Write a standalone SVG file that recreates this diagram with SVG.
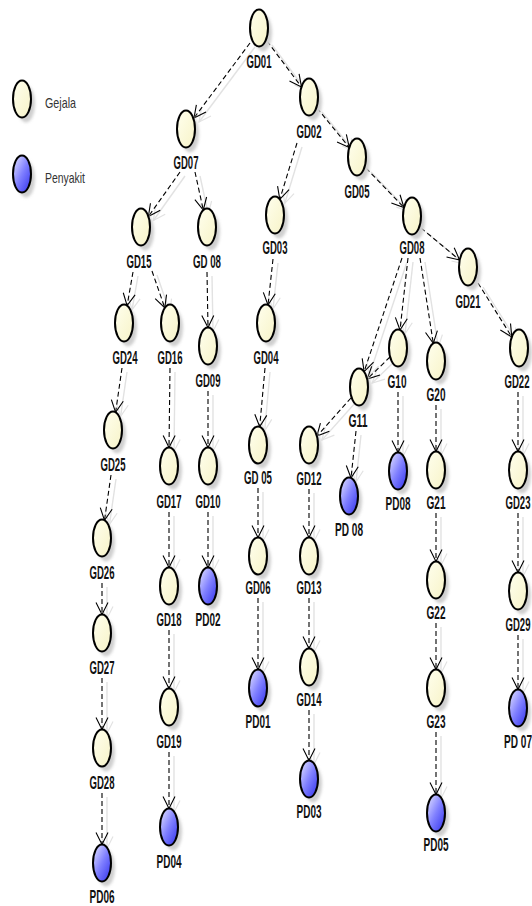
<svg xmlns="http://www.w3.org/2000/svg" width="532" height="906" viewBox="0 0 532 906">
<defs>
<linearGradient id="gy" x1="0" y1="0" x2="1" y2="1">
<stop offset="0" stop-color="#ffffee"/><stop offset="1" stop-color="#f7f3c8"/>
</linearGradient>
<linearGradient id="gb" x1="0.1" y1="0.1" x2="0.9" y2="0.9">
<stop offset="0" stop-color="#d4d4ff"/><stop offset="0.5" stop-color="#8080ff"/><stop offset="1" stop-color="#4040f0"/>
</linearGradient>
<filter id="blur" x="-50%" y="-50%" width="200%" height="200%"><feGaussianBlur stdDeviation="1.5"/></filter>
<marker id="ah" markerUnits="userSpaceOnUse" markerWidth="14" markerHeight="14" refX="12" refY="6" orient="auto" overflow="visible">
<path d="M0,0 L12,6 L0,12" fill="none" stroke="#000" stroke-width="1.1"/>
</marker>
<marker id="ahs" markerUnits="userSpaceOnUse" markerWidth="14" markerHeight="14" refX="12" refY="6" orient="auto" overflow="visible">
<path d="M0,0 L12,6 L0,12" fill="none" stroke="#e2e2e2" stroke-width="1.2"/>
</marker>
<g id="yn"><ellipse cx="4" cy="5" rx="9" ry="18.5" fill="#cfcfcf" filter="url(#blur)"/><ellipse cx="0" cy="0" rx="9" ry="18.5" fill="url(#gy)" stroke="#000" stroke-width="2"/></g>
<g id="bn"><ellipse cx="4" cy="5" rx="9" ry="18.5" fill="#cfcfcf" filter="url(#blur)"/><ellipse cx="0" cy="0" rx="9" ry="18.5" fill="url(#gb)" stroke="#000" stroke-width="2"/></g>
</defs>
<style>
.lb{font-family:"Liberation Sans",Arial,sans-serif;font-size:18px;font-weight:bold;fill:#111;text-anchor:middle}
.lg{font-family:"Liberation Sans",Arial,sans-serif;font-size:15px;fill:#333}
.e{fill:none;stroke:#000;stroke-width:1.1;stroke-dasharray:5,3;marker-end:url(#ah)}
.s{fill:none;stroke:#e2e2e2;stroke-width:1.4;marker-end:url(#ahs)}
</style>
<rect width="532" height="906" fill="#fff"/>

<g id="legend">
<use href="#yn" x="22" y="99"/>
<text class="lg" x="45" y="108" textLength="31" lengthAdjust="spacingAndGlyphs">Gejala</text>
<use href="#bn" x="22" y="174"/>
<text class="lg" x="45" y="183" textLength="40" lengthAdjust="spacingAndGlyphs">Penyakit</text>
</g>

<g id="shadows" transform="translate(5,4)">
<path class="s" d="M250,43L194,118"/>
<path class="s" d="M267,41L301.5,87"/>
<path class="s" d="M297,143L279.8,199.3"/>
<path class="s" d="M317,108L349.3,147.5"/>
<path class="s" d="M366,168L404,207.6"/>
<path class="s" d="M421,228L459.6,260"/>
<path class="s" d="M180,172L148.4,216.5"/>
<path class="s" d="M195,172L203.3,210"/>
<path class="s" d="M133,272L127.1,305.6"/>
<path class="s" d="M152,271L164.8,307.9"/>
<path class="s" d="M207,272L208,327.5"/>
<path class="s" d="M273,259L268,305"/>
<path class="s" d="M265,368L259.7,426.8"/>
<path class="s" d="M258,488L258,537.5"/>
<path class="s" d="M258,598L258,669.5"/>
<path class="s" d="M402,258L364.1,371.7"/>
<path class="s" d="M408,258L400,330"/>
<path class="s" d="M420,258L433.3,343.4"/>
<path class="s" d="M390,357L367.2,379.1"/>
<path class="s" d="M351,398L316.9,436.1"/>
<path class="s" d="M356,431L351,478"/>
<path class="s" d="M398,392L398,452.5"/>
<path class="s" d="M436,405L436,451.5"/>
<path class="s" d="M436,513L436,561.5"/>
<path class="s" d="M436,623L436,669.5"/>
<path class="s" d="M436,732L436,794.5"/>
<path class="s" d="M478,283L511.8,336.9"/>
<path class="s" d="M518,392L518,451.5"/>
<path class="s" d="M518,513L518,572.5"/>
<path class="s" d="M518,635L518,689.5"/>
<path class="s" d="M309,489L309,537.5"/>
<path class="s" d="M309,598L309,648.5"/>
<path class="s" d="M309,710L309,760.5"/>
<path class="s" d="M122,368L115.6,412.3"/>
<path class="s" d="M111,475L104.5,520.3"/>
<path class="s" d="M102,583L102,614.5"/>
<path class="s" d="M102,678L102,729.5"/>
<path class="s" d="M102,793L102,844.5"/>
<path class="s" d="M170,368L169,447.5"/>
<path class="s" d="M169,512L169,567.5"/>
<path class="s" d="M169,630L169,688.5"/>
<path class="s" d="M169,752L169,808.5"/>
<path class="s" d="M208,391L208,447.5"/>
<path class="s" d="M208,512L208,567.5"/>
</g>

<g id="connectors">
<path class="e" d="M250,43L194,118"/>
<path class="e" d="M267,41L301.5,87"/>
<path class="e" d="M297,143L279.8,199.3"/>
<path class="e" d="M317,108L349.3,147.5"/>
<path class="e" d="M366,168L404,207.6"/>
<path class="e" d="M421,228L459.6,260"/>
<path class="e" d="M180,172L148.4,216.5"/>
<path class="e" d="M195,172L203.3,210"/>
<path class="e" d="M133,272L127.1,305.6"/>
<path class="e" d="M152,271L164.8,307.9"/>
<path class="e" d="M207,272L208,327.5"/>
<path class="e" d="M273,259L268,305"/>
<path class="e" d="M265,368L259.7,426.8"/>
<path class="e" d="M258,488L258,537.5"/>
<path class="e" d="M258,598L258,669.5"/>
<path class="e" d="M402,258L364.1,371.7"/>
<path class="e" d="M408,258L400,330"/>
<path class="e" d="M420,258L433.3,343.4"/>
<path class="e" d="M390,357L367.2,379.1"/>
<path class="e" d="M351,398L316.9,436.1"/>
<path class="e" d="M356,431L351,478"/>
<path class="e" d="M398,392L398,452.5"/>
<path class="e" d="M436,405L436,451.5"/>
<path class="e" d="M436,513L436,561.5"/>
<path class="e" d="M436,623L436,669.5"/>
<path class="e" d="M436,732L436,794.5"/>
<path class="e" d="M478,283L511.8,336.9"/>
<path class="e" d="M518,392L518,451.5"/>
<path class="e" d="M518,513L518,572.5"/>
<path class="e" d="M518,635L518,689.5"/>
<path class="e" d="M309,489L309,537.5"/>
<path class="e" d="M309,598L309,648.5"/>
<path class="e" d="M309,710L309,760.5"/>
<path class="e" d="M122,368L115.6,412.3"/>
<path class="e" d="M111,475L104.5,520.3"/>
<path class="e" d="M102,583L102,614.5"/>
<path class="e" d="M102,678L102,729.5"/>
<path class="e" d="M102,793L102,844.5"/>
<path class="e" d="M170,368L169,447.5"/>
<path class="e" d="M169,512L169,567.5"/>
<path class="e" d="M169,630L169,688.5"/>
<path class="e" d="M169,752L169,808.5"/>
<path class="e" d="M208,391L208,447.5"/>
<path class="e" d="M208,512L208,567.5"/>
</g>

<g id="GD01"><use href="#yn" x="259" y="28"/><text class="lb" x="259" y="68" textLength="25" lengthAdjust="spacingAndGlyphs">GD01</text></g>
<g id="GD02"><use href="#yn" x="309" y="97"/><text class="lb" x="309" y="138" textLength="25" lengthAdjust="spacingAndGlyphs">GD02</text></g>
<g id="GD07"><use href="#yn" x="186" y="129"/><text class="lb" x="186" y="169" textLength="25" lengthAdjust="spacingAndGlyphs">GD07</text></g>
<g id="GD05"><use href="#yn" x="357" y="157"/><text class="lb" x="357" y="198" textLength="25" lengthAdjust="spacingAndGlyphs">GD05</text></g>
<g id="GD08"><use href="#yn" x="412" y="216"/><text class="lb" x="412" y="254" textLength="25" lengthAdjust="spacingAndGlyphs">GD08</text></g>
<g id="GD21"><use href="#yn" x="468" y="267"/><text class="lb" x="468" y="308" textLength="25" lengthAdjust="spacingAndGlyphs">GD21</text></g>
<g id="GD15"><use href="#yn" x="141" y="227"/><text class="lb" x="139" y="268" textLength="25" lengthAdjust="spacingAndGlyphs">GD15</text></g>
<g id="GD_08"><use href="#yn" x="207" y="227"/><text class="lb" x="207" y="268" textLength="28" lengthAdjust="spacingAndGlyphs">GD 08</text></g>
<g id="GD03"><use href="#yn" x="275" y="215"/><text class="lb" x="275" y="254" textLength="25" lengthAdjust="spacingAndGlyphs">GD03</text></g>
<g id="GD24"><use href="#yn" x="124" y="323"/><text class="lb" x="125" y="364" textLength="25" lengthAdjust="spacingAndGlyphs">GD24</text></g>
<g id="GD16"><use href="#yn" x="170" y="323"/><text class="lb" x="170" y="364" textLength="25" lengthAdjust="spacingAndGlyphs">GD16</text></g>
<g id="GD09"><use href="#yn" x="208" y="346"/><text class="lb" x="208" y="387" textLength="25" lengthAdjust="spacingAndGlyphs">GD09</text></g>
<g id="GD04"><use href="#yn" x="266" y="323"/><text class="lb" x="266" y="364" textLength="25" lengthAdjust="spacingAndGlyphs">GD04</text></g>
<g id="G10"><use href="#yn" x="398" y="348"/><text class="lb" x="397" y="388" textLength="19" lengthAdjust="spacingAndGlyphs">G10</text></g>
<g id="G20"><use href="#yn" x="436" y="361"/><text class="lb" x="436" y="401" textLength="19" lengthAdjust="spacingAndGlyphs">G20</text></g>
<g id="GD22"><use href="#yn" x="519" y="348"/><text class="lb" x="517" y="388" textLength="25" lengthAdjust="spacingAndGlyphs">GD22</text></g>
<g id="G11"><use href="#yn" x="359" y="387"/><text class="lb" x="358" y="427" textLength="19" lengthAdjust="spacingAndGlyphs">G11</text></g>
<g id="GD12"><use href="#yn" x="309" y="445"/><text class="lb" x="309" y="485" textLength="25" lengthAdjust="spacingAndGlyphs">GD12</text></g>
<g id="PD_08"><use href="#bn" x="349" y="496"/><text class="lb" x="349" y="536" textLength="28" lengthAdjust="spacingAndGlyphs">PD 08</text></g>
<g id="PD08"><use href="#bn" x="398" y="471"/><text class="lb" x="398" y="510" textLength="25" lengthAdjust="spacingAndGlyphs">PD08</text></g>
<g id="GD25"><use href="#yn" x="113" y="430"/><text class="lb" x="113" y="471" textLength="25" lengthAdjust="spacingAndGlyphs">GD25</text></g>
<g id="GD17"><use href="#yn" x="169" y="466"/><text class="lb" x="169" y="508" textLength="25" lengthAdjust="spacingAndGlyphs">GD17</text></g>
<g id="GD10"><use href="#yn" x="208" y="466"/><text class="lb" x="208" y="508" textLength="25" lengthAdjust="spacingAndGlyphs">GD10</text></g>
<g id="GD_05"><use href="#yn" x="258" y="445"/><text class="lb" x="258" y="484" textLength="28" lengthAdjust="spacingAndGlyphs">GD 05</text></g>
<g id="GD26"><use href="#yn" x="102" y="538"/><text class="lb" x="102" y="579" textLength="25" lengthAdjust="spacingAndGlyphs">GD26</text></g>
<g id="GD06"><use href="#yn" x="258" y="556"/><text class="lb" x="258" y="594" textLength="25" lengthAdjust="spacingAndGlyphs">GD06</text></g>
<g id="GD13"><use href="#yn" x="309" y="556"/><text class="lb" x="309" y="594" textLength="25" lengthAdjust="spacingAndGlyphs">GD13</text></g>
<g id="G21"><use href="#yn" x="436" y="470"/><text class="lb" x="436" y="509" textLength="19" lengthAdjust="spacingAndGlyphs">G21</text></g>
<g id="GD23"><use href="#yn" x="518" y="470"/><text class="lb" x="518" y="509" textLength="25" lengthAdjust="spacingAndGlyphs">GD23</text></g>
<g id="GD18"><use href="#yn" x="169" y="586"/><text class="lb" x="169" y="626" textLength="25" lengthAdjust="spacingAndGlyphs">GD18</text></g>
<g id="PD02"><use href="#bn" x="208" y="586"/><text class="lb" x="208" y="626" textLength="25" lengthAdjust="spacingAndGlyphs">PD02</text></g>
<g id="G22"><use href="#yn" x="436" y="580"/><text class="lb" x="436" y="619" textLength="19" lengthAdjust="spacingAndGlyphs">G22</text></g>
<g id="GD29"><use href="#yn" x="518" y="591"/><text class="lb" x="518" y="631" textLength="25" lengthAdjust="spacingAndGlyphs">GD29</text></g>
<g id="GD27"><use href="#yn" x="102" y="633"/><text class="lb" x="102" y="674" textLength="25" lengthAdjust="spacingAndGlyphs">GD27</text></g>
<g id="GD14"><use href="#yn" x="309" y="667"/><text class="lb" x="309" y="706" textLength="25" lengthAdjust="spacingAndGlyphs">GD14</text></g>
<g id="PD01"><use href="#bn" x="258" y="688"/><text class="lb" x="258" y="728" textLength="25" lengthAdjust="spacingAndGlyphs">PD01</text></g>
<g id="G23"><use href="#yn" x="436" y="688"/><text class="lb" x="436" y="728" textLength="19" lengthAdjust="spacingAndGlyphs">G23</text></g>
<g id="PD_07"><use href="#bn" x="518" y="708"/><text class="lb" x="518" y="748" textLength="28" lengthAdjust="spacingAndGlyphs">PD 07</text></g>
<g id="GD19"><use href="#yn" x="169" y="707"/><text class="lb" x="169" y="748" textLength="25" lengthAdjust="spacingAndGlyphs">GD19</text></g>
<g id="GD28"><use href="#yn" x="102" y="748"/><text class="lb" x="102" y="789" textLength="25" lengthAdjust="spacingAndGlyphs">GD28</text></g>
<g id="PD03"><use href="#bn" x="309" y="779"/><text class="lb" x="309" y="818" textLength="25" lengthAdjust="spacingAndGlyphs">PD03</text></g>
<g id="PD05"><use href="#bn" x="436" y="813"/><text class="lb" x="436" y="851" textLength="25" lengthAdjust="spacingAndGlyphs">PD05</text></g>
<g id="PD04"><use href="#bn" x="169" y="827"/><text class="lb" x="169" y="868" textLength="25" lengthAdjust="spacingAndGlyphs">PD04</text></g>
<g id="PD06"><use href="#bn" x="102" y="863"/><text class="lb" x="102" y="903" textLength="25" lengthAdjust="spacingAndGlyphs">PD06</text></g>
</svg>
